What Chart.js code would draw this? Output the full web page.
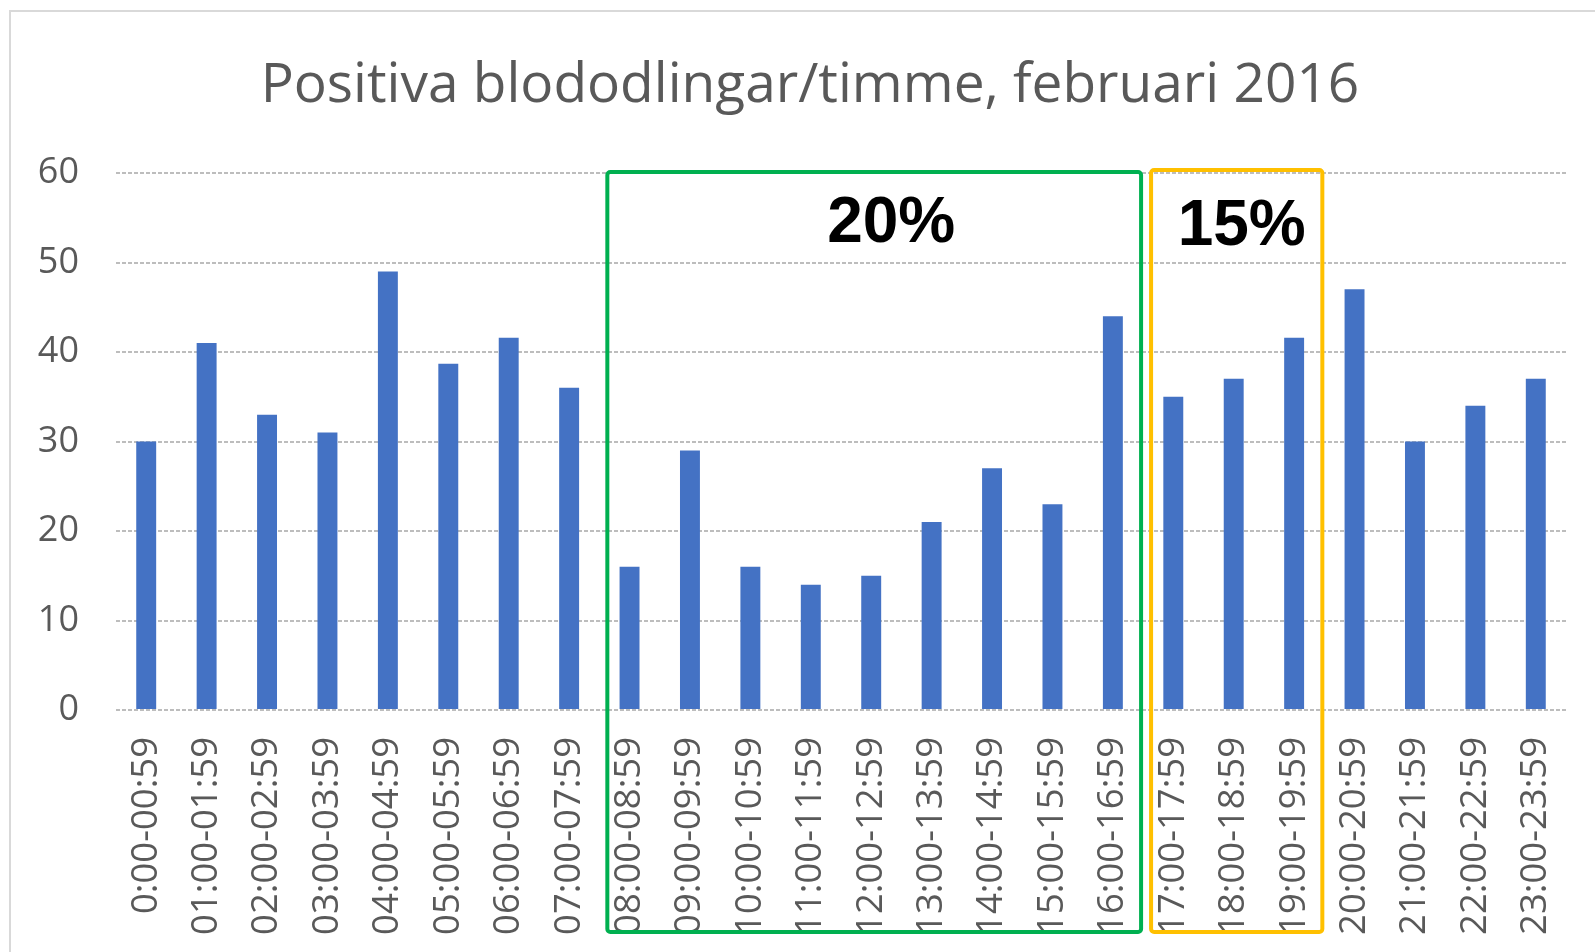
<!DOCTYPE html>
<html>
<head>
<meta charset="utf-8">
<script src="https://cdn.jsdelivr.net/npm/chart.js@4/dist/chart.umd.min.js"></script>
<style>
  html, body { margin: 0; padding: 0; background: #fff; }
  #chart { display: block; }
</style>
</head>
<body>
<canvas id="chart" width="1595" height="952"></canvas>
<script>
// Chart data
const chartTitle = "Positiva blododlingar/timme, februari 2016";
const categories = [
  "0:00-00:59", "01:00-01:59", "02:00-02:59", "03:00-03:59", "04:00-04:59", "05:00-05:59",
  "06:00-06:59", "07:00-07:59", "08:00-08:59", "09:00-09:59", "10:00-10:59", "11:00-11:59",
  "12:00-12:59", "13:00-13:59", "14:00-14:59", "15:00-15:59", "16:00-16:59", "17:00-17:59",
  "18:00-18:59", "19:00-19:59", "20:00-20:59", "21:00-21:59", "22:00-22:59", "23:00-23:59"
];
const counts = [30, 41, 33, 31, 49, 38.7, 41.6, 36, 16, 29, 16, 14, 15, 21, 27, 23, 44, 35, 37, 41.6, 47, 30, 34, 37];
const yTicks = [0, 10, 20, 30, 40, 50, 60];

// highlighted periods (category index ranges) and their labels
const rangeStart = [8, 17];
const rangeEnd = [16, 19];
const rangeLabels = ["20%", "15%"];

// styles
const rangeColors = ["#00b050", "#ffc000"];
const textGray = "#595959";

const overlay = {
  id: "overlay",
  beforeDraw(chart) {
    const ctx = chart.ctx;
    ctx.save();
    ctx.fillStyle = "#fff";
    ctx.fillRect(0, 0, chart.width, chart.height);
    // light frame of the original chart object
    ctx.strokeStyle = "#d9d9d9";
    ctx.lineWidth = 2;
    ctx.beginPath();
    ctx.moveTo(10, chart.height);
    ctx.lineTo(10, 11);
    ctx.lineTo(chart.width, 11);
    ctx.stroke();
    // title, centred on the (cropped) frame
    ctx.fillStyle = textGray;
    ctx.font = '55px "Open Sans"';
    ctx.textAlign = "center";
    ctx.textBaseline = "alphabetic";
    ctx.fillText(chartTitle, 810, 102);
    ctx.restore();
  },
  afterDatasetsDraw(chart) {
    const ctx = chart.ctx;
    const x = chart.scales.x, y = chart.scales.y;
    const half = (x.getPixelForValue(1) - x.getPixelForValue(0)) / 2;
    const topShift = [1, 3];
    const textShift = [17, 5];
    const textDrop = [70, 75];
    ctx.save();
    rangeStart.forEach((start, i) => {
      const left = x.getPixelForValue(start) - half + 8;
      const right = x.getPixelForValue(rangeEnd[i]) + half - 2;
      const top = y.getPixelForValue(60) - topShift[i];
      const bottom = chart.height - 20;
      ctx.strokeStyle = rangeColors[i];
      ctx.lineWidth = 4;
      ctx.beginPath();
      ctx.roundRect(left, top, right - left, bottom - top, 3);
      ctx.stroke();
      ctx.fillStyle = "#000";
      ctx.font = 'bold 64px "Liberation Sans"';
      ctx.textAlign = "center";
      ctx.textBaseline = "alphabetic";
      ctx.fillText(rangeLabels[i], (left + right) / 2 + textShift[i], top + textDrop[i]);
    });
    ctx.restore();
  }
};

function drawChart() {
  new Chart(document.getElementById("chart"), {
    type: "bar",
    data: {
      labels: categories,
      datasets: [{
        data: counts,
        backgroundColor: "#4472c4",
        borderWidth: 0,
        barPercentage: 0.33,
        categoryPercentage: 1
      }]
    },
    options: {
      responsive: false,
      animation: false,
      devicePixelRatio: 1,
      layout: { padding: { top: 173, left: 12, right: 29, bottom: 0 } },
      plugins: {
        legend: { display: false },
        title: { display: false },
        tooltip: { enabled: false }
      },
      scales: {
        x: {
          grid: { display: false, drawTicks: false },
          border: { display: false },
          ticks: {
            autoSkip: false, minRotation: 90, maxRotation: 90,
            padding: 27, color: textGray,
            font: { family: "'Open Sans', sans-serif", size: 36.5 }
          },
          afterFit: s => {
            s.height = 242;
            s.paddingLeft = 0;
            s.paddingRight = 0;
          }
        },
        y: {
          min: 0, max: 60,
          afterBuildTicks: s => { s.ticks = yTicks.map(v => ({ value: v })); },
          ticks: {
            padding: 37, color: textGray,
            font: { family: "'Open Sans', sans-serif", size: 36 }
          },
          grid: { color: "#bdbdbd", lineWidth: 2, drawTicks: false },
          border: { display: false, dash: [4, 2] },
          afterFit: s => { s.width = 104; }
        }
      }
    },
    plugins: [overlay]
  });
}

Promise.all([
  document.fonts.load('55px "Open Sans"'),
  document.fonts.load('bold 64px "Liberation Sans"')
]).then(drawChart, drawChart);
</script>
</body>
</html>
